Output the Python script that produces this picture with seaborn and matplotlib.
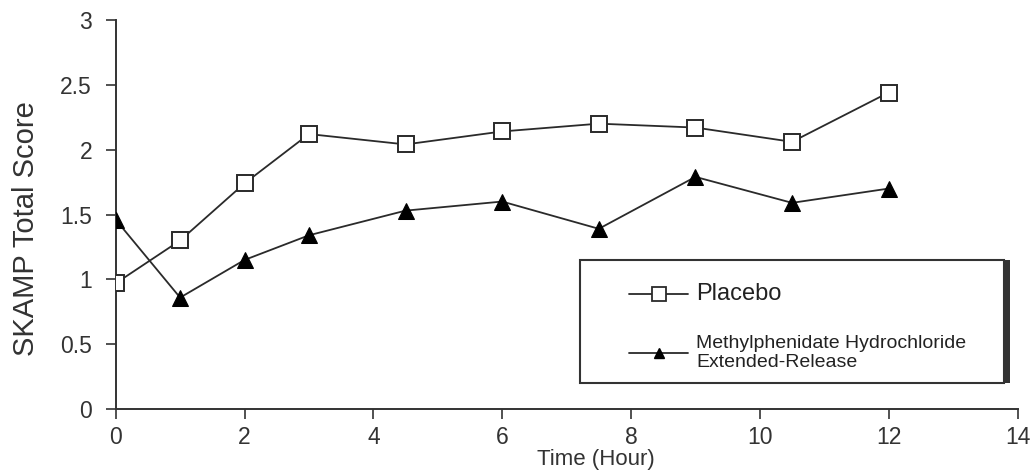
import matplotlib
matplotlib.use("Agg")
import matplotlib.pyplot as plt
import seaborn as sns
import pandas as pd
from matplotlib.patches import Rectangle
from matplotlib.lines import Line2D

sns.set_theme(style="ticks")
plt.rcParams['font.family'] = ['Liberation Sans', 'DejaVu Sans']

time_hours = [0, 1, 2, 3, 4.5, 6, 7.5, 9, 10.5, 12]
placebo = [0.97, 1.30, 1.74, 2.12, 2.04, 2.14, 2.20, 2.17, 2.06, 2.44]
methylphenidate = [1.46, 0.86, 1.15, 1.34, 1.53, 1.60, 1.39, 1.79, 1.59, 1.70]
series_labels = ["Placebo", "Methylphenidate Hydrochloride\nExtended-Release"]
x_ticks = [0, 2, 4, 6, 8, 10, 12, 14]
y_ticks = [0, 0.5, 1, 1.5, 2, 2.5, 3]
y_tick_labels = ["0", "0.5", "1", "1.5", "2", "2.5", "3"]

df = pd.DataFrame({"time": time_hours, "placebo": placebo, "mph": methylphenidate})

fig, ax = plt.subplots(figsize=(10.33, 4.72), dpi=100)
fig.subplots_adjust(left=0.112, right=0.985, top=0.958, bottom=0.133)

sns.lineplot(data=df, x="time", y="placebo", ax=ax, color="#2a2a2a", lw=1.3,
             marker="s", markersize=12, markerfacecolor="white",
             markeredgecolor="#2a2a2a", markeredgewidth=1.4, zorder=3)
sns.lineplot(data=df, x="time", y="mph", ax=ax, color="#2a2a2a", lw=1.3,
             marker="^", markersize=11, markerfacecolor="black",
             markeredgecolor="black", zorder=3)

ax.set_xlim(0, 14)
ax.set_ylim(0, 3)
ax.set_xticks(x_ticks)
ax.set_yticks(y_ticks)
ax.set_yticklabels(y_tick_labels)
ax.tick_params(axis="both", labelsize=16.5, colors="#333333", length=7, width=1.2, direction="out")
ax.tick_params(axis="x", pad=5)
ax.tick_params(axis="y", pad=10)
ax.set_xlabel("Time (Hour)", fontsize=16, color="#333333")
ax.xaxis.set_label_coords(0.532, -0.103)
ax.set_ylabel("SKAMP Total Score", fontsize=21, color="#333333")
ax.yaxis.set_label_coords(-0.084, 0.465)
sns.despine(ax=ax)
for s in ["left", "bottom"]:
    ax.spines[s].set_linewidth(1.4)
    ax.spines[s].set_color("#333333")

# legend box with right shadow
bx, by, bw, bh = 0.515, 0.067, 0.470, 0.316
ax.add_patch(Rectangle((bx, by), bw, bh, transform=ax.transAxes, fill=True,
                       facecolor="white", edgecolor="#333333", lw=1.5, zorder=4))
ax.add_patch(Rectangle((bx + bw, by), 0.007, bh, transform=ax.transAxes,
                       facecolor="#333333", edgecolor="none", zorder=4))

handles = [
    Line2D([], [], color="#2a2a2a", lw=1.3, marker="s", markersize=10,
           markerfacecolor="white", markeredgecolor="#2a2a2a", markeredgewidth=1.3),
    Line2D([], [], color="#2a2a2a", lw=1.3, marker="^", markersize=7,
           markerfacecolor="black", markeredgecolor="black"),
]
leg = ax.legend(handles, series_labels, loc="upper left",
                bbox_to_anchor=(bx + 0.046, by + bh - 0.04), frameon=False,
                handlelength=3.0, handletextpad=0.45, labelspacing=1.5,
                fontsize=14, borderaxespad=0)
leg.set_zorder(5)
texts = leg.get_texts()
texts[0].set_fontsize(17)
texts[1].set_fontsize(14)
for t in texts:
    t.set_color("#222222")

fig.savefig("out.png", dpi=100)
